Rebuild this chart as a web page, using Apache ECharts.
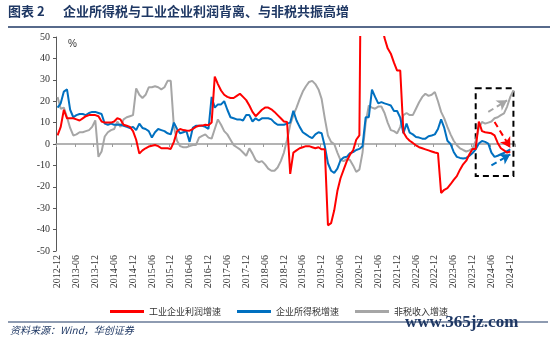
<!DOCTYPE html>
<html><head><meta charset="utf-8">
<script src="https://cdn.jsdelivr.net/npm/echarts@6/dist/echarts.min.js"></script>
<style>html,body{margin:0;padding:0;background:#fff;}#c{width:550px;height:339px;}</style>
</head><body><div id="c"></div>
<script>
// month categories: 2012-12 .. 2025-01
const startYear = 2012, startMonth = 12, monthCount = 146;
const categories = [];
for (let k = 0; k < monthCount; k++) {
  const m0 = startMonth - 1 + k;
  const y = startYear + Math.floor(m0 / 12), m = (m0 % 12) + 1;
  categories.push(y + '-' + (m < 10 ? '0' + m : m));
}
const seriesNames = ['工业企业利润增速', '企业所得税增速', '非税收入增速'];
// 工业企业利润增速 (%), from 2012-12
const profitGrowth = [
  4, 8, 16, 12, 12, 12, 11.5, 11, 12, 13, 13.5, 13.5,
  13.5, 13, 10.5, 10, 10, 10, 10.5, 12, 11.5, 9, 8.5, 8,
  6, 2, -4.5, -3, -2, -1.2, -0.8, -0.5, -1, -2, -2, -2,
  -2.3, 1, 6, 7, 6.5, 6.3, 6.2, 7, 8, 8.5, 8.6, 9,
  8.8, 10, 31.5, 28, 25, 23, 22, 21.5, 21.5, 22.5, 23.5, 22,
  20.5, 18, 15, 13, 14.5, 16, 17, 17, 16.2, 15, 13.5, 12,
  10.5, 10.3, -14, -4, -3, -2, -1.5, -1, -1, -1.5, -2, -1.5,
  -2.5, -2.5, -38, -37, -31, -22, -16, -12, -8, -5, -3, 2,
  4, 178.9, 178.9, 137.3, 106, 83.4, 66.9, 57.3, 49.5, 44.7, 42.2, 38,
  34.3, 34.3, 5.5, 3, 1.5, 0.5, -0.6, -1.5, -2, -2.5, -3, -3.5,
  -4, -4.3, -22.9, -21.4, -20.6, -18.8, -16.8, -15, -12, -9.5, -7.8, -4.8,
  -2.3, -2.3, 10.5, 6, 5.5, 5.3, 5, 4, 0.5, -2, -3, -4,
  -3.5
];
// 企业所得税增速 (%)
const citGrowth = [
  17, 19, 24.5, 25.5, 16, 12.5, 13.5, 14, 14, 13.5, 14.5, 15,
  15, 14.5, 14, 9.5, 9, 9.5, 9, 9, 9, 8.5, 8, 7.5,
  8, 6.5, 9.5, 7.5, 7, 6, 3, 5.5, 7, 6.5, 6, 5,
  4.5, 10, 7, 5, 5.5, 6, 1, 7.5, 8.5, 8.5, 8.5, 8,
  7, 22, 17, 18.5, 18.5, 20, 16, 12.5, 12, 11.5, 11.5, 11,
  13.5, 13.5, 10.5, 12, 11, 12, 12, 12, 11.5, 10, 9, 9,
  9, 9.5, 10, 15.5, 11, 8, 5.5, 4.5, 3.5, 2.7, 4.5, 5.5,
  5, -1, -9, -12.5, -13.5, -11.5, -7.6, -6.3, -6, -4.3, -3.8, -2.8,
  -2.3, -1, 12.5, 12.5, 25.4, 22, 19, 19.6, 19, 18.5, 18, 15.4,
  15.4, 12.3, 5, 9.5, 5.3, 4.5, 3.3, 3, 2.5, 2.5, 3.6, 4,
  4.5, 7, 11.5, 7.5, 1.5, 0, -3.7, -6, -6.5, -6.8, -6.5, -5.5,
  -4.2, -2.5, 0.2, 1.4, 1, 0.2, -4, -6, -5.5, -4.8, -4.2, -3.3,
  -2.5
];
// 非税收入增速 (%)
const nonTaxGrowth = [
  22, 16.5, 17, 12.5, 7.5, 4, 4.5, 5.5, 5.5, 6, 6.5, 8,
  11, -6, -3.5, 3.5, 5.5, 6.5, 7, 10.5, 8, 11.5, 12.5, 13,
  13.5, 26, 23, 21.5, 23, 26.5, 26.5, 27, 26.5, 25.5, 26.5, 29.5,
  29.5, 8, 1.5, -1, -1.5, -1.5, -1, -0.5, -0.5, 3, 3.8, 4.5,
  3, 2.5, 7, 11.5, 9, 6, 4.5, 2, -0.5, -1.5, -2.5, -4,
  -5.5, -2, -4.5, -7.5, -8.5, -8, -9.5, -11.5, -12.5, -12.5, -11, -8,
  -4, 2, 9, 13.5, 17, 21, 24.5, 27, 29, 29.5, 28, 25.5,
  21, 12, 4, 1, 0, -4, -7.5, -8, -7, -7.5, -10, -13,
  -12, -4, 10, 18, 17, 16.5, 17.5, 17.5, 14.5, 10, 6.5, 6,
  5, 8, 13.5, 14.5, 13.5, 13.5, 16.5, 19.5, 22, 23.5, 22.5, 23,
  24.3, 20, 15, 12, 8, 4.5, 1.5, -0.6, -2, -2.8, -3.5, -3,
  -2, 1.5, 7.5, 10.3, 9.5, 10, 10.5, 12, 12.5, 13.5, 14.3, 17.5,
  22, 25
];
// annotation: dashed box and trend arrows (data coordinates)
const boxCorners = [['2024-01', 26], ['2025-01', -15]];
const profitArrow = [['2024-07', 10.3], ['2024-12', -1.7]];
const citArrow = [['2024-06', -10], ['2024-12', -4.8]];
const nonTaxArrow = [['2024-05', 15], ['2024-11', 20.4]];
const yMin = -50, yMax = 50, yStep = 10;

const colors = ['#ff0000', '#0070c0', '#a6a6a6'];
const navy = '#1f3864';
function arrow(pts, color) {
  return {
    silent: true, symbol: ['none', 'arrow'], symbolSize: [9, 10],
    label: { show: false },
    lineStyle: { color: color, type: [6, 4], width: 2 },
    data: [[{ coord: pts[0] }, { coord: pts[1] }]]
  };
}
const chart = echarts.init(document.getElementById('c'), null, { renderer: 'canvas' });
chart.setOption({
  animation: false,
  grid: { left: 56, right: 35, top: 37, bottom: 88 },
  legend: {
    left: 105, top: 302, itemWidth: 34, itemHeight: 3, itemGap: 16, icon: 'rect',
    textStyle: { fontSize: 9, color: '#333', fontFamily: 'Noto Sans CJK SC' },
    data: seriesNames
  },
  xAxis: [{
    type: 'category', data: categories, boundaryGap: true,
    axisLine: { show: false, onZero: false }, axisTick: { show: false },
    axisLabel: { interval: 5, rotate: 90, fontSize: 10, color: '#333', fontFamily: 'Liberation Serif', margin: 4 }
  }, {
    type: 'category', data: categories, boundaryGap: true, position: 'bottom',
    axisLine: { show: true, onZero: true, lineStyle: { color: '#9a9a9a', width: 1.5 } },
    axisTick: { show: true, interval: 5, length: 3, lineStyle: { color: '#9a9a9a' } },
    axisLabel: { show: false }
  }],
  yAxis: {
    type: 'value', min: yMin, max: yMax, interval: yStep,
    splitLine: { show: false },
    axisLine: { show: true, lineStyle: { color: '#595959', width: 1 } },
    axisTick: { show: true, length: 3, lineStyle: { color: '#595959' } },
    axisLabel: { fontSize: 10, color: '#333', fontFamily: 'Liberation Serif', margin: 6 }
  },
  graphic: [
    { type: 'text', left: 8, top: 5, style: { text: '图表 2', font: 'bold 13px "Noto Sans CJK SC"', fill: navy } },
    { type: 'text', left: 63, top: 5, style: { text: '企业所得税与工业企业利润背离、与非税共振高增', font: 'bold 13px "Noto Sans CJK SC"', fill: navy } },
    { type: 'line', shape: { x1: 8, y1: 27, x2: 550, y2: 27 }, style: { stroke: navy, lineWidth: 1.5 } },
    { type: 'text', left: 68, top: 39, style: { text: '%', font: '10px "Liberation Sans"', fill: '#333' } },
    { type: 'line', shape: { x1: 8, y1: 322, x2: 548, y2: 322 }, style: { stroke: navy, lineWidth: 1.2 } },
    { type: 'text', left: 10, top: 325, style: { text: '资料来源：Wind，华创证券', font: 'italic 10px "Noto Sans CJK SC"', fill: navy } },
    { type: 'text', left: 405, top: 314, style: { text: 'www.365jz.com', font: 'bold 17px "Liberation Serif"', fill: navy } }
  ],
  series: [
    { name: seriesNames[0], type: 'line', data: profitGrowth, symbol: 'none', z: 4,
      lineStyle: { color: colors[0], width: 2 }, itemStyle: { color: colors[0] },
      markLine: arrow(profitArrow, colors[0]) },
    { name: seriesNames[1], type: 'line', data: citGrowth, symbol: 'none', z: 3,
      lineStyle: { color: colors[1], width: 2 }, itemStyle: { color: colors[1] },
      markLine: arrow(citArrow, colors[1]) },
    { name: seriesNames[2], type: 'line', data: nonTaxGrowth, symbol: 'none', z: 2,
      lineStyle: { color: colors[2], width: 2 }, itemStyle: { color: colors[2] },
      markLine: arrow(nonTaxArrow, colors[2]),
      markArea: {
        silent: true,
        itemStyle: { color: 'rgba(0,0,0,0)', borderColor: '#000', borderWidth: 2, borderType: [6, 4] },
        data: [[{ xAxis: boxCorners[0][0], yAxis: boxCorners[0][1] }, { xAxis: boxCorners[1][0], yAxis: boxCorners[1][1] }]]
      } }
  ]
});
</script></body></html>
